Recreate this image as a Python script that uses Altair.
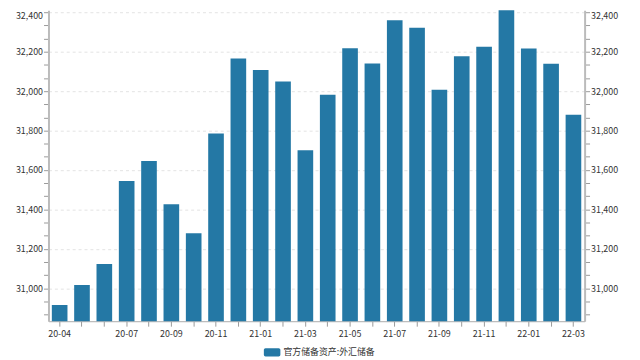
import altair as alt
import pandas as pd

months = ["20-04", "20-05", "20-06", "20-07", "20-08", "20-09", "20-10", "20-11",
          "20-12", "21-01", "21-02", "21-03", "21-04", "21-05", "21-06", "21-07",
          "21-08", "21-09", "21-10", "21-11", "21-12", "22-01", "22-02", "22-03"]
reserves = [30915.7, 31016.9, 31123.3, 31543.9, 31646.1, 31425.6, 31279.6, 31784.9,
            32165.2, 32106.6, 32048.7, 31700.0, 31981.8, 32217.8, 32140.1, 32358.7,
            32321.7, 32006.2, 32176.1, 32224.4, 32501.7, 32216.4, 32138.2, 31879.9]
series_name = "官方储备资产:外汇储备"
shown_labels = ["20-04", "20-07", "20-09", "20-11", "21-01", "21-03", "21-05",
                "21-07", "21-09", "21-11", "22-01", "22-03"]

y_min, y_max = 30833, 32410
tick_values = [31000 + k * 200 / 3 for k in range(-2, 22)]

df = pd.DataFrame({"month": months, "value": reserves, "series": series_name})

FONT = "Noto Sans CJK SC"
BAR = "#2478a5"
label_cond = "abs(datum.value/200 - round(datum.value/200)) < 0.01"
top_shift = {"condition": {"test": "datum.value > 32390", "value": 3}, "value": 0}

x_enc = alt.X(
    "month:N", sort=months, title=None,
    scale=alt.Scale(paddingInner=0.3, paddingOuter=0.15),
    axis=alt.Axis(
        labelExpr="indexof(" + str(shown_labels) + ", datum.value) >= 0 ? datum.value : ''",
        labelAngle=0, labelOverlap=False, labelFontSize=9, labelColor="#333",
        labelFont=FONT, labelPadding=3, tickSize=5, tickColor="#999",
        domainColor="#aaa", domainWidth=1, grid=False,
    ),
)

y_scale = alt.Scale(domain=[y_min, y_max], zero=False, nice=False)

left = alt.Chart(df).mark_bar(clip=True).encode(
    x=x_enc,
    y=alt.Y("value:Q", title=None, scale=y_scale,
            axis=alt.Axis(values=tick_values, orient="left",
                          labelExpr=label_cond + " ? format(datum.value, ',') : ''",
                          labelFontSize=9, labelColor="#333", labelFont=FONT,
                          labelPadding=1, labelOffset=top_shift,
                          tickSize=5, tickColor="#999",
                          domainColor="#bbb", domainWidth=2,
                          grid=True, gridColor="#e3e3e3", gridDash=[3, 3],
                          gridOpacity={"condition": {"test": label_cond, "value": 1}, "value": 0})),
    color=alt.Color("series:N", title=None,
                    scale=alt.Scale(domain=[series_name], range=[BAR]),
                    legend=alt.Legend(orient="none", legendX=218, legendY=338,
                                      symbolType="M-0.8,-0.5H0.8Q1,-0.5 1,-0.3V0.3Q1,0.5 0.8,0.5H-0.8Q-1,0.5 -1,0.3V-0.3Q-1,-0.5 -0.8,-0.5Z",
                                      symbolSize=280, symbolStrokeWidth=0, symbolOpacity=1,
                                      labelFontSize=9, labelColor="#333", labelFont=FONT,
                                      labelOffset=3, padding=0)),
)

right = alt.Chart(df).mark_bar(clip=True, opacity=0).encode(
    x=x_enc,
    y=alt.Y("value:Q", title=None, scale=y_scale,
            axis=alt.Axis(values=tick_values, orient="right",
                          labelExpr=label_cond + " ? format(datum.value, ',') : ''",
                          labelFontSize=9, labelColor="#333", labelFont=FONT,
                          labelPadding=1, labelOffset=top_shift,
                          tickSize=5, tickColor="#999",
                          domainColor="#bbb", domainWidth=2, grid=False)),
)

chart = alt.layer(left, right).resolve_scale(y="independent").properties(
    width=543, height=315,
    autosize=alt.AutoSizeParams(type="none"),
    padding={"left": 41, "top": 0, "right": 48, "bottom": 37},
).configure_view(stroke=None)

chart.save("out.html", embed_options={"renderer": "svg", "actions": False})
